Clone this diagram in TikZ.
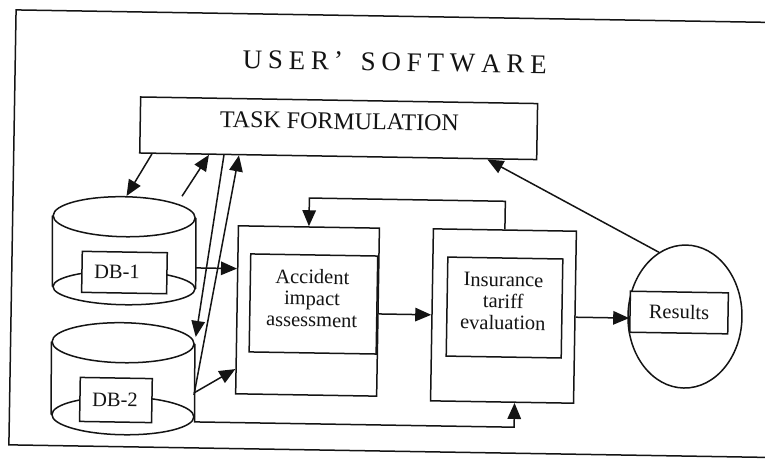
\documentclass[tikz,border=0pt]{standalone}
\usepackage{fontspec}
\setmainfont{Liberation Serif}
\usetikzlibrary{arrows.meta,calc,shapes.geometric}

\begin{document}
\begin{tikzpicture}[x=1pt,y=-1pt,
  ink/.style={line width=1.5pt,draw=black!92},
  box/.style={ink,fill=white,inner sep=0pt},
  disc/.style={ink,ellipse,inner sep=0pt},
  lbl/.style={inner sep=0pt,align=center,text=black!92,
    font=\fontsize{20.5}{21.5}\selectfont},
  con/.style={ink,-{Triangle[length=16pt,width=13.5pt]}}]

\useasboundingbox (0,0) rectangle (765,458);
\fill[white] (0,0) rectangle (765,458);
\clip (0,0) rectangle (765,458);

\begin{scope}[rotate around={-0.95:(382,229)},transform shape]

% outer frame of the user software
\draw[ink] (800,16) -- (12.5,16) -- (12.5,451) -- (800,451);

\node[lbl,font=\fontsize{27}{28}\selectfont] (title) at (392,62)
  {U\kern5.8pt S\kern5.8pt E\kern5.8pt R\kern5pt '\kern5pt\ \kern5.8pt S\kern5.8pt O\kern5.8pt F\kern5.8pt T\kern5.8pt W\kern5.8pt A\kern5.8pt R\kern5.8pt E};

% task formulation
\node[box,minimum width=397pt,minimum height=56pt] (task) at (337,129) {};
\node[lbl,font=\fontsize{24}{25}\selectfont] (tasklbl) at (337.7,122) {TASK FORMULATION};

% database DB-1
\node[disc,minimum width=142pt,minimum height=34pt] (db1b) at (125,292) {};
\draw[ink] (db1b.west) -- ++(-1,-71) (db1b.east) -- ++(-1,-71);
\node[disc,fill=white,minimum width=142pt,minimum height=40pt] (db1t) at (124,221) {};
\node[box,minimum width=85pt,minimum height=41pt] (db1box) at (125.2,276.8) {};
\node[lbl] (db1lbl) at (117.7,276.4) {DB-1};

% database DB-2
\node[disc,minimum width=142pt,minimum height=38pt] (db2b) at (126,420) {};
\draw[ink] (db2b.west) -- ++(-1,-73) (db2b.east) -- ++(-1,-73);
\node[disc,fill=white,minimum width=142pt,minimum height=40pt] (db2t) at (125,347) {};
\node[box,minimum width=72pt,minimum height=44pt] (db2box) at (118.8,404.4) {};
\node[lbl] (db2lbl) at (117.8,404.4) {DB-2};

% accident impact assessment
\node[box,minimum width=141pt,minimum height=168pt] (acc) at (308.9,312.2) {};
\node[box,minimum width=127pt,minimum height=98pt] (accin) at (314.7,305.1) {};
\node[lbl] (acclbl) at (313.2,299.3) {Accident\\impact\\assessment};

% insurance tariff evaluation
\node[box,minimum width=143pt,minimum height=172pt] (ins) at (504.9,314) {};
\node[box,minimum width=115pt,minimum height=99pt] (insin) at (505.8,305.5) {};
\node[lbl] (inslbl) at (504.4,299.5) {Insurance\\tariff\\evaluation};

% results
\node[disc,minimum width=114pt,minimum height=143pt] (res) at (686.4,311.5) {};
\node[box,minimum width=98pt,minimum height=41pt] (resbox) at (680.4,307.6) {};
\node[lbl] (reslbl) at (680.4,307) {Results};

% helper levels for horizontal connectors
\coordinate (lvA) at (0,271);
\coordinate (lvB) at (0,371.5);
\coordinate (lvC) at (0,314);

% connectors between the task and the databases
\draw[con] ($(task.south west)+(13,0)$) -- ($(db1t.north)+(2,0)$);
\draw[con] ($(db1t.north)+(57.5,-0.7)$) -- ($(task.south west)+(70,0)$);
\draw[con] ($(task.south west)+(85,0)$) -- ($(db2t.east)+(0.8,-7)$);
\draw[con] ($(db2t.east)+(0,51)$) -- ($(task.south west)+(100,0)$);

% data flow into the assessment blocks
\draw[con] (db1t.east |- lvA) -- (acc.west |- lvA);
\draw[con] ($(db2t.east)+(0,49)$) -- (acc.west |- lvB);
\draw[con] (acc.east |- lvC) -- (ins.west |- lvC);
\draw[con] (ins.east |- lvC) -- (resbox.west |- lvC);
\draw[con] (res.113) -- ($(task.south east)+(-50,0)$);
\draw[con] (ins.north) -- ++(0,-28) -| (acc.north);
\draw[con] (db2b.east) -- ++(0,5) -| ($(ins.south)+(12.5,0)$);

\end{scope}
\end{tikzpicture}
\end{document}
